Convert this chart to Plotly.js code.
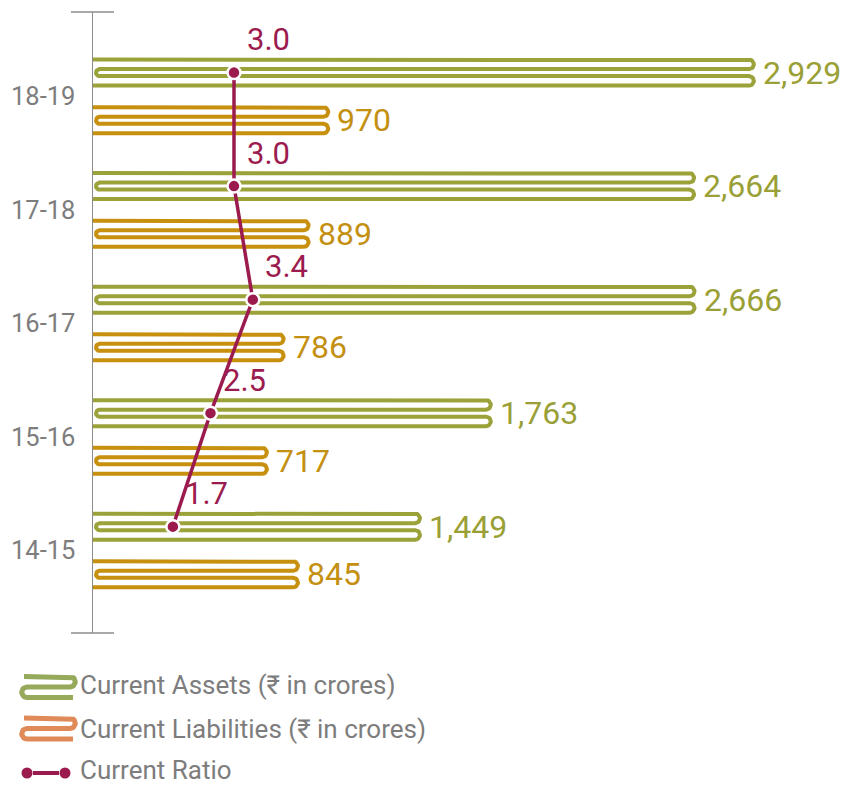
<!DOCTYPE html>
<html>
<head>
<meta charset="utf-8">
<script src="https://cdn.plot.ly/plotly-3.0.1.min.js"></script>
<style>html,body{margin:0;padding:0;background:#fff;}#chart{width:857px;height:785px;}</style>
</head>
<body>
<div id="chart"></div>
<script>
// ---------- data ----------
const years = ['14-15', '15-16', '16-17', '17-18', '18-19'];
const currentAssets = [1449, 1763, 2666, 2664, 2929];
const currentLiabilities = [845, 717, 786, 889, 970];
const currentRatio = [1.7, 2.5, 3.4, 3.0, 3.0];
const legendLabels = ['Current Assets (₹ in crores)', 'Current Liabilities (₹ in crores)', 'Current Ratio'];

// ---------- style / geometry ----------
const FIG_W = 857, FIG_H = 785;
const PLOT_L = 93, PLOT_R = 845, PLOT_T = 12, PLOT_B = 633;
const W = PLOT_R - PLOT_L, H = PLOT_B - PLOT_T;
const ASSET_RANGE = 3333, LIAB_RANGE = 3101, RATIO_RANGE = 16;
const Y_RANGE = [-0.727, 4.744];
const PPY = H / (Y_RANGE[1] - Y_RANGE[0]);
const OFF = 0.21;
const C_ASSET = '#9ca23a', C_LIAB = '#c7900f', C_RATIO = '#9c1b4e';
const C_ASSET_TXT = '#9a9f36', C_LIAB_TXT = '#c49011';
const C_LEG_ASSET = '#97a95b', C_LEG_LIAB = '#e08959';
const GREY = '#7d7d7d', AXIS_GREY = '#8c8c8c';
const FONT = 'Roboto, "Open Sans", sans-serif';

function arcPts(pts, cx, cy, r, a0, a1, n) {
  n = n || 14;
  for (let k = 0; k <= n; k++) {
    const t = (a0 + (a1 - a0) * k / n) * Math.PI / 180;
    pts.push([cx + r * Math.cos(t), cy + r * Math.sin(t)]);
  }
}

// serpentine ribbon bar: pixel geometry relative to bar start & centre, converted via axis scale
function serpentine(v, yc, range, color, axis) {
  const ppx = W / range;
  const O = [-13, -3.5, 3.5, 13];
  const xe = v * ppx, xl = 3;
  const pts = [[0, O[0]]];
  const r1 = (O[1] - O[0]) / 2, r2 = (O[2] - O[1]) / 2, r3 = (O[3] - O[2]) / 2;
  arcPts(pts, xe - r1, (O[0] + O[1]) / 2, r1, -90, 90);
  arcPts(pts, xl + r2, (O[1] + O[2]) / 2, r2, -90, -270);
  arcPts(pts, xe - r3, (O[2] + O[3]) / 2, r3, -90, 90);
  pts.push([0, O[3]]);
  return {
    type: 'scatter', mode: 'lines', xaxis: axis, yaxis: 'y',
    x: pts.map(p => p[0] / ppx), y: pts.map(p => yc - p[1] / PPY),
    line: {color: color, width: 4}, hoverinfo: 'skip', showlegend: false
  };
}

// legend icon (3-line serpentine) in figure-pixel coords
function legendIcon(y0, color) {
  const xL = 27, xR = 70, r = 5.25;
  const pts = [[24, y0]];
  arcPts(pts, xR, y0 + r, r, -90, 90);
  arcPts(pts, xL, y0 + 3 * r, r, -90, -270);
  pts.push([73, y0 + 4 * r]);
  return {
    type: 'scatter', mode: 'lines', xaxis: 'x4', yaxis: 'y4',
    x: pts.map(p => p[0]), y: pts.map(p => p[1]),
    line: {color: color, width: 5}, hoverinfo: 'skip', showlegend: false
  };
}

const traces = [];
const annotations = [];
const fmt = v => v.toLocaleString('en-US');

years.forEach((yr, i) => {
  traces.push(serpentine(currentAssets[i], i + OFF, ASSET_RANGE, C_ASSET, 'x'));
  traces.push(serpentine(currentLiabilities[i], i - OFF, LIAB_RANGE, C_LIAB, 'x2'));
  annotations.push({xref: 'x', yref: 'y', x: currentAssets[i], y: i + OFF, text: fmt(currentAssets[i]),
    xanchor: 'left', yanchor: 'middle', xshift: 7, showarrow: false, font: {family: FONT, size: 32, color: C_ASSET_TXT}});
  annotations.push({xref: 'x2', yref: 'y', x: currentLiabilities[i], y: i - OFF, text: fmt(currentLiabilities[i]),
    xanchor: 'left', yanchor: 'middle', xshift: 7, showarrow: false, font: {family: FONT, size: 32, color: C_LIAB_TXT}});
  annotations.push({xref: 'x3', yref: 'y', x: currentRatio[i], y: i + OFF, text: currentRatio[i].toFixed(1),
    xanchor: 'center', yanchor: 'middle', xshift: 34, yshift: 33, showarrow: false, font: {family: FONT, size: 31, color: C_RATIO}});
});

traces.push({
  type: 'scatter', mode: 'lines+markers', xaxis: 'x3', yaxis: 'y',
  x: currentRatio, y: years.map((_, i) => i + OFF),
  line: {color: C_RATIO, width: 3.5},
  marker: {color: C_RATIO, size: 13, line: {color: '#ffffff', width: 2.5}},
  hoverinfo: 'skip', showlegend: false
});

// axis end caps
[PLOT_T, PLOT_B].forEach(yp => {
  traces.push({type: 'scatter', mode: 'lines', xaxis: 'x4', yaxis: 'y4', x: [71, 114], y: [yp, yp],
    line: {color: AXIS_GREY, width: 1.5}, hoverinfo: 'skip', showlegend: false});
});

// legend
traces.push(legendIcon(676.5, C_LEG_ASSET));
traces.push(legendIcon(718, C_LEG_LIAB));
traces.push({type: 'scatter', mode: 'lines', xaxis: 'x4', yaxis: 'y4', x: [33, 59], y: [773, 773],
  line: {color: C_RATIO, width: 4}, hoverinfo: 'skip', showlegend: false});
traces.push({type: 'scatter', mode: 'markers', xaxis: 'x4', yaxis: 'y4', x: [27, 65], y: [773, 773],
  marker: {color: C_RATIO, size: 11}, hoverinfo: 'skip', showlegend: false});
[685, 728.5, 769.5].forEach((yp, k) => {
  annotations.push({xref: 'x4', yref: 'y4', x: 78, y: yp, text: legendLabels[k], xanchor: 'left', yanchor: 'middle',
    showarrow: false, font: {family: FONT, size: 26, color: GREY}});
});

const layout = {
  width: FIG_W, height: FIG_H,
  margin: {l: 0, r: 0, t: 0, b: 0},
  paper_bgcolor: '#ffffff', plot_bgcolor: 'rgba(0,0,0,0)',
  font: {family: FONT},
  showlegend: false,
  xaxis: {domain: [PLOT_L / FIG_W, PLOT_R / FIG_W], range: [0, ASSET_RANGE], visible: false, fixedrange: true, anchor: 'y'},
  xaxis2: {overlaying: 'x', range: [0, LIAB_RANGE], visible: false, fixedrange: true, anchor: 'y'},
  xaxis3: {overlaying: 'x', range: [0, RATIO_RANGE], visible: false, fixedrange: true, anchor: 'y'},
  yaxis: {
    domain: [(FIG_H - PLOT_B) / FIG_H, (FIG_H - PLOT_T) / FIG_H], range: Y_RANGE, anchor: 'x',
    tickvals: years.map((_, i) => i), ticktext: years,
    showline: true, linecolor: AXIS_GREY, linewidth: 1.5,
    ticks: 'outside', ticklen: 11, tickcolor: 'rgba(0,0,0,0)',
    showgrid: false, zeroline: false, fixedrange: true,
    tickfont: {family: FONT, size: 25.5, color: GREY}
  },
  xaxis4: {domain: [0, 1], range: [0, FIG_W], visible: false, fixedrange: true, anchor: 'y4'},
  yaxis4: {domain: [0, 1], range: [FIG_H, 0], visible: false, fixedrange: true, anchor: 'x4'},
  annotations: annotations
};

Plotly.newPlot('chart', traces, layout, {staticPlot: true, displayModeBar: false});
</script>
</body>
</html>
